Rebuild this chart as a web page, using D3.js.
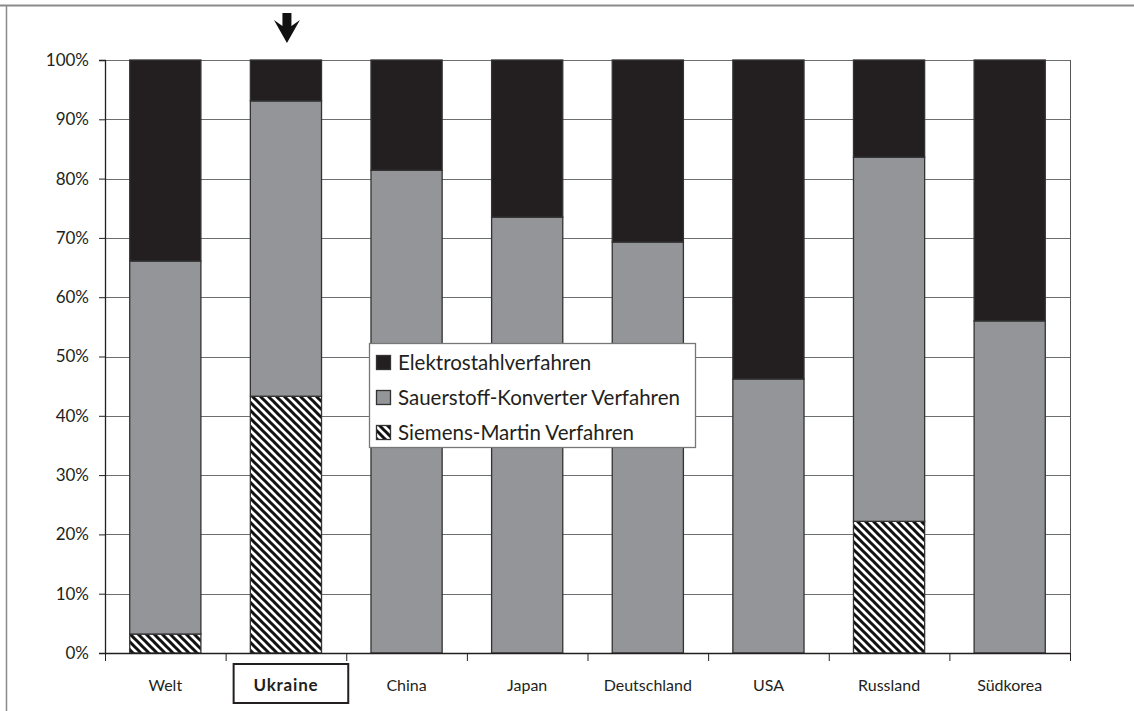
<!DOCTYPE html>
<html><head><meta charset="utf-8">
<script src="https://cdn.jsdelivr.net/npm/d3@7"></script>
<style>
html,body{margin:0;padding:0;background:#fff;overflow:hidden;}
svg{display:block;font-family:Lato, "Open Sans", sans-serif;}
</style></head>
<body>
<svg id="c" width="1134" height="711"></svg>
<script>
const categories = ["Welt","Ukraine","China","Japan","Deutschland","USA","Russland","Südkorea"];
const siemensMartin = [3.2, 43.3, 0, 0, 0, 0, 22.2, 0];
const sauerstoff = [62.9, 49.8, 81.4, 73.5, 69.3, 46.2, 61.4, 56.0];
const elektro = [33.9, 6.9, 18.6, 26.5, 30.7, 53.8, 16.4, 44.0];
const seriesNames = ["Elektrostahlverfahren","Sauerstoff-Konverter Verfahren","Siemens-Martin Verfahren"];
const yTicks = [0,10,20,30,40,50,60,70,80,90,100];
const highlighted = "Ukraine";

const svg = d3.select("#c");
const M = {left:105, right:1070, top:60, bottom:653};

const defs = svg.append("defs");
const pat = defs.append("pattern").attr("id","hatch").attr("patternUnits","userSpaceOnUse")
  .attr("width",8).attr("height",8);
pat.append("rect").attr("width",8).attr("height",8).attr("fill","#fff");
pat.append("path").attr("d","M-2,-2 L10,10 M-2,6 L2,10 M6,-2 L10,2").attr("stroke","#111").attr("stroke-width",3);

// frame
svg.append("line").attr("x1",0).attr("x2",1134).attr("y1",5.5).attr("y2",5.5).attr("stroke","#8a8a8a").attr("stroke-width",2);
svg.append("line").attr("x1",6.5).attr("x2",6.5).attr("y1",5).attr("y2",711).attr("stroke","#8a8a8a").attr("stroke-width",1.5);

const x = d3.scaleBand().domain(categories).range([M.left,M.right]).paddingInner(0.41).paddingOuter(0.205);
const xb = d3.scaleBand().domain(categories).range([M.left,M.right]);
const y = d3.scaleLinear().domain([0,100]).range([M.bottom,M.top]);

svg.append("g").selectAll("line").data(yTicks.filter(d=>d>0)).join("line")
  .attr("x1",M.left).attr("x2",M.right).attr("y1",d=>Math.round(y(d))+0.5).attr("y2",d=>Math.round(y(d))+0.5)
  .attr("stroke","#6d6e71").attr("stroke-width",1);

const rows = categories.map((c,i)=>({cat:c, sm:siemensMartin[i], so:sauerstoff[i], el:elektro[i]}));
const stack = d3.stack().keys(["sm","so","el"])(rows);
const fills = {sm:"url(#hatch)", so:"#939598", el:"#231f20"};
const gb = svg.append("g");
stack.forEach(layer=>{
  gb.append("g").selectAll("rect").data(layer.filter(d=>d[1]-d[0]>0)).join("rect")
    .attr("x",d=>x(d.data.cat)).attr("width",x.bandwidth())
    .attr("y",d=>y(d[1])).attr("height",d=>y(d[0])-y(d[1]))
    .attr("fill",fills[layer.key]).attr("stroke","#333").attr("stroke-width",1.3);
});

svg.append("line").attr("x1",M.right+0.5).attr("x2",M.right+0.5).attr("y1",M.top).attr("y2",M.bottom)
  .attr("stroke","#555").attr("stroke-width",1);

const ya = svg.append("g").attr("transform",`translate(${M.left},0)`)
  .call(d3.axisLeft(y).tickValues(yTicks).tickFormat(d=>d+"%").tickSize(6).tickPadding(10));
ya.select(".domain").attr("stroke","#231f20").attr("stroke-width",1.3);
ya.selectAll(".tick line").attr("stroke","#231f20");
ya.selectAll("text").attr("font-size",17).attr("fill","#231f20").attr("font-family","Lato, sans-serif");

svg.append("line").attr("x1",M.left).attr("x2",M.right).attr("y1",M.bottom+0.5).attr("y2",M.bottom+0.5).attr("stroke","#231f20").attr("stroke-width",1.5);
const bounds = categories.map(c=>xb(c)).concat([M.right]);
svg.append("g").selectAll("line").data(bounds).join("line")
  .attr("x1",d=>d+0.5).attr("x2",d=>d+0.5).attr("y1",M.bottom).attr("y2",M.bottom+8).attr("stroke","#231f20");
svg.append("g").selectAll("text").data(categories).join("text")
  .attr("x",d=>xb(d)+xb.bandwidth()/2).attr("y",691).attr("text-anchor","middle")
  .attr("font-size",d=>d===highlighted?17:16).attr("font-weight",d=>d===highlighted?"bold":"normal")
  .attr("letter-spacing",d=>d===highlighted?0.8:0)
  .attr("fill","#231f20").text(d=>d);
const hx = xb(highlighted);
svg.append("rect").attr("x",hx+8).attr("y",664).attr("width",xb.bandwidth()-6).attr("height",39)
  .attr("fill","none").attr("stroke","#231f20").attr("stroke-width",2);
const ac = hx + xb.bandwidth()/2 + 1;
svg.append("path").attr("d",`M${ac-4.5},13 L${ac+4.5},13 L${ac+4.5},26 L${ac+13},20 L${ac},43 L${ac-13},20 L${ac-4.5},26 Z`)
  .attr("fill","#111");

const lg = svg.append("g").attr("transform","translate(369,343)");
lg.append("rect").attr("x",0.5).attr("y",0.5).attr("width",326).attr("height",104).attr("fill","#fff").attr("stroke","#777").attr("stroke-width",1.3);
const lfill = ["#231f20","#939598","url(#hatch)"];
seriesNames.forEach((n,i)=>{
  const yy = 19 + i*35;
  lg.append("rect").attr("x",7.5).attr("y",yy-6.5).attr("width",14).attr("height",14)
    .attr("fill",lfill[i]).attr("stroke","#333").attr("stroke-width",1.3);
  lg.append("text").attr("x",29).attr("y",yy+7.5).attr("font-size",20.5).attr("fill","#231f20").text(n);
});
</script>
</body></html>
